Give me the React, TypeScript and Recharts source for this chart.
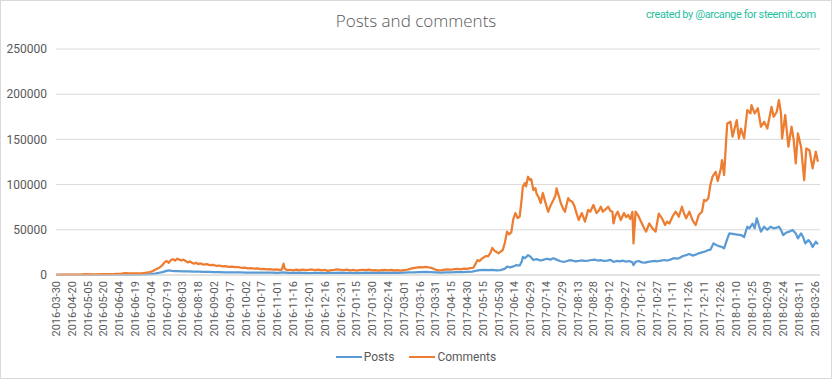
import React from 'react';
import { LineChart, Line, XAxis, YAxis, CartesianGrid, Legend } from 'recharts';

const tickLabels = [
  '2016-03-30', '2016-04-20', '2016-05-05', '2016-05-20', '2016-06-04', '2016-06-19', '2016-07-04',
  '2016-07-19', '2016-08-03', '2016-08-18', '2016-09-02', '2016-09-17', '2016-10-02', '2016-10-17',
  '2016-11-01', '2016-11-16', '2016-12-01', '2016-12-16', '2016-12-31', '2017-01-15', '2017-01-30',
  '2017-02-14', '2017-03-01', '2017-03-16', '2017-03-31', '2017-04-15', '2017-04-30', '2017-05-15',
  '2017-05-30', '2017-06-14', '2017-06-29', '2017-07-14', '2017-07-29', '2017-08-13', '2017-08-28',
  '2017-09-12', '2017-09-27', '2017-10-12', '2017-10-27', '2017-11-11', '2017-11-26', '2017-12-11',
  '2017-12-26', '2018-01-10', '2018-01-25', '2018-02-09', '2018-02-24', '2018-03-11', '2018-03-26',
];

const yTicks = [0, 50000, 100000, 150000, 200000, 250000];

// [category index, value]
const postsPoints: [number, number][] = [
  [0,100],[20,150],[40,250],[60,350],[80,500],[86,700],[90,1000],[94,1600],[98,2500],[101,3200],[104,4200],[106,4800],[108,5000],[110,4500],[113,4300],[116,4400],[120,4000],[125,3900],[130,3700],[135,3600],[140,3500],[145,3400],[150,3300],[155,3100],[160,3000],[165,2900],[170,3000],[175,2800],[180,2700],[185,2700],[190,2600],[195,2500],[200,2600],[205,2500],[210,2400],[216,2900],[220,2400],[225,2300],[230,2500],[235,2300],[240,2200],[245,2400],[250,2300],[255,2200],[260,2400],[265,2300],[270,2500],[275,2400],[280,2300],[285,2200],[290,2400],[295,2500],[300,2300],[305,2400],[310,2500],[315,2300],[320,2500],[325,2400],[330,2600],[335,2800],[340,3000],[345,3300],[350,3400],[355,3100],[360,2900],[365,2700],[370,2800],[375,3000],[380,3100],[385,3300],[390,3500],[395,3800],[398,4500],[402,5500],[406,5800],[410,5300],[414,5600],[418,5000],[422,5400],[426,7000],[428,9200],[431,8500],[434,9500],[437,11000],[440,10500],[442,15000],[443,20000],[445,18600],[448,22000],[450,20500],[453,16600],[456,17500],[460,16000],[463,17000],[466,18000],[469,17000],[472,18600],[475,17000],[478,15500],[482,14400],[485,15500],[488,16500],[490,16000],[493,15000],[496,15500],[499,16200],[502,15500],[505,16000],[508,16600],[511,17000],[514,16000],[517,16500],[520,15500],[523,16000],[526,16800],[529,14500],[532,15500],[535,15000],[538,15800],[541,14800],[544,15500],[547,14000],[548,11000],[550,14500],[553,15500],[556,14000],[559,13800],[562,14500],[565,15000],[568,15500],[571,15200],[574,16000],[577,16600],[580,16000],[583,17000],[586,18600],[589,18000],[592,19000],[595,21000],[598,22000],[601,23200],[604,21500],[607,22500],[610,24000],[613,25000],[616,26000],[619,27600],[621,28000],[624,35000],[627,33000],[629,32000],[632,31000],[634,29500],[637,40000],[639,46000],[642,45500],[645,45000],[648,44500],[650,44200],[653,42000],[656,53400],[658,51600],[661,56800],[663,51600],[665,62700],[667,55000],[669,48000],[672,53400],[675,50000],[678,53400],[681,51600],[684,52500],[686,53400],[688,50000],[690,44200],[693,47000],[696,48000],[699,49800],[702,46000],[704,40500],[707,46000],[709,42000],[711,35000],[714,38600],[716,36000],[718,31000],[721,36800],[723,34000],
];

const commentsPoints: [number, number][] = [
  [0,200],[6,300],[12,400],[18,500],[24,600],[30,900],[33,700],[38,800],[44,1000],[50,1100],[56,1200],[62,1500],[66,2000],[70,1700],[76,1800],[82,2200],[86,2600],[89,3200],[92,4500],[95,6500],[98,8000],[101,11000],[103,14000],[105,15500],[107,13500],[109,16500],[111,17500],[113,16000],[115,18000],[117,17000],[119,16000],[121,17000],[123,15500],[125,14000],[127,15000],[129,13500],[131,12500],[133,13500],[135,12000],[137,12800],[140,11500],[143,12000],[146,11000],[149,11200],[152,10200],[155,10500],[158,9600],[161,9800],[164,9000],[167,9300],[170,8600],[173,8800],[176,8000],[179,8200],[182,7400],[185,7600],[188,7000],[191,7300],[194,6600],[197,6800],[200,6200],[203,6500],[206,6000],[209,6200],[212,5600],[214,5800],[215,9000],[216,12500],[217,7000],[219,5500],[222,5800],[225,5200],[228,5900],[231,5400],[234,6000],[237,5300],[240,5700],[243,6100],[246,5500],[249,5900],[252,5200],[255,5600],[258,4600],[261,5300],[264,5700],[267,6200],[270,5800],[273,5400],[276,6000],[279,5200],[282,5600],[285,4900],[288,5500],[291,5800],[294,5300],[297,5900],[300,5200],[303,5500],[306,4800],[309,5400],[312,5700],[315,5100],[318,5600],[321,5000],[324,5500],[327,4900],[330,5400],[333,5800],[336,6800],[339,7600],[342,8200],[345,8800],[348,8500],[351,9000],[354,8300],[357,7500],[360,6000],[363,5200],[366,5500],[369,6000],[372,6300],[375,5800],[378,6500],[381,6800],[384,6200],[387,7000],[390,6800],[393,7500],[396,8000],[398,12000],[400,16500],[402,15500],[404,18000],[406,19500],[408,21000],[410,20500],[412,24000],[414,30000],[416,27000],[418,25500],[420,24000],[422,26000],[424,27600],[426,36000],[428,48000],[430,45000],[432,47000],[434,62000],[436,68500],[438,63000],[440,64500],[442,85000],[443,97700],[445,101700],[446,98000],[448,108700],[450,105000],[451,106000],[453,94000],[455,96000],[456,90000],[458,86000],[460,79600],[462,90700],[464,82000],[467,70000],[469,76000],[472,83000],[474,88000],[475,95800],[477,88000],[479,79600],[481,74000],[483,70000],[486,85000],[488,82000],[490,81000],[492,76000],[493,72000],[496,60800],[499,68500],[502,59000],[505,72000],[507,70000],[510,77400],[513,68500],[515,71000],[517,75500],[519,70000],[521,72000],[524,75500],[526,71000],[528,70000],[529,57000],[531,66000],[533,70000],[536,60800],[539,68500],[541,64000],[543,66400],[545,62000],[547,70000],[548,35000],[550,70000],[553,64500],[556,57000],[558,52000],[560,48000],[563,57000],[566,51600],[569,48000],[572,68000],[575,62700],[578,55300],[580,59000],[582,57000],[585,64500],[588,70000],[591,64500],[594,75500],[596,68000],[598,62700],[601,70000],[604,60800],[607,55300],[610,66400],[613,70000],[615,83000],[617,82000],[619,84800],[621,100000],[623,108700],[626,114000],[628,104000],[631,118000],[632,127000],[634,110600],[636,150000],[637,167700],[640,169500],[642,153000],[646,171400],[648,151000],[650,162000],[653,151000],[656,182500],[659,178800],[660,188000],[663,178800],[666,184400],[669,164000],[672,169500],[675,162000],[679,186000],[681,175000],[684,180600],[686,193500],[688,178800],[689,151000],[692,177000],[695,141900],[698,164000],[700,150000],[702,123500],[704,156700],[707,141900],[710,105000],[712,140000],[715,138000],[718,118000],[721,136400],[723,125300],
];

const postsData = postsPoints.map(([i, v]) => ({ i, v }));
const commentsData = commentsPoints.map(([i, v]) => ({ i, v }));
const xTicks = tickLabels.map((_, k) => k * 15);

const FONT = 'Roboto, "Open Sans", sans-serif';
const GRAY = '#595959';
const BLUE = '#5B9BD5';
const ORANGE = '#ED7D31';

const XTick = (props: any) => {
  const { x, y, payload } = props;
  const label = tickLabels[Math.round(payload.value / 15)];
  return (
    <text
      x={x}
      y={y}
      dy={4}
      transform={`rotate(-90, ${x}, ${y})`}
      textAnchor="end"
      fontSize={11}
      fontFamily={FONT}
      fill={GRAY}
    >
      {label}
    </text>
  );
};

const LegendContent = () => (
  <div
    style={{
      height: 30,
      display: 'flex',
      justifyContent: 'center',
      alignItems: 'flex-start',
      fontFamily: FONT,
      fontSize: 12,
      color: GRAY,
      lineHeight: '16px',
    }}
  >
    <span style={{ display: 'flex', alignItems: 'center', marginRight: 15 }}>
      <span style={{ width: 26, height: 0, borderTop: `2.5px solid ${BLUE}`, marginRight: 2 }} />
      Posts
    </span>
    <span style={{ display: 'flex', alignItems: 'center' }}>
      <span style={{ width: 26, height: 0, borderTop: `2.5px solid ${ORANGE}`, marginRight: 2 }} />
      Comments
    </span>
  </div>
);

export default function App() {
  return (
    <div style={{ position: 'absolute', left: 0, top: 0, width: 832, height: 379, background: '#fff' }}>
      <LineChart width={832} height={379} margin={{ top: 49, right: 12, bottom: 0, left: 0 }}>
        <CartesianGrid horizontal vertical={false} stroke="#d9d9d9" strokeWidth={1} />
        <XAxis
          type="number"
          dataKey="i"
          domain={[0, 725]}
          ticks={xTicks}
          interval={0}
          tick={<XTick />}
          tickLine={false}
          tickSize={0}
          tickMargin={6}
          axisLine={{ stroke: '#d9d9d9' }}
          height={74}
          allowDataOverflow
        />
        <YAxis
          type="number"
          domain={[0, 250000]}
          ticks={yTicks}
          interval={0}
          width={56}
          axisLine={false}
          tickLine={false}
          tickSize={0}
          tickMargin={9}
          tick={{ fontSize: 12, fill: GRAY, fontFamily: FONT }}
        />
        <Legend
          verticalAlign="bottom"
          align="center"
          height={30}
          content={<LegendContent />}
          wrapperStyle={{ left: 0, width: 832 }}
        />
        <Line
          data={postsData}
          dataKey="v"
          name="Posts"
          type="linear"
          stroke={BLUE}
          strokeWidth={2.25}
          dot={false}
          isAnimationActive={false}
          strokeLinejoin="round"
        />
        <Line
          data={commentsData}
          dataKey="v"
          name="Comments"
          type="linear"
          stroke={ORANGE}
          strokeWidth={2.25}
          dot={false}
          isAnimationActive={false}
          strokeLinejoin="round"
        />
      </LineChart>
      <div
        style={{
          position: 'absolute',
          left: 0,
          top: 10,
          width: 832,
          textAlign: 'center',
          fontFamily: '"Open Sans", sans-serif',
          fontWeight: 300,
          fontSize: 17,
          lineHeight: '22px',
          color: GRAY,
          pointerEvents: 'none',
        }}
      >
        Posts and comments
      </div>
      <div
        style={{
          position: 'absolute',
          left: 646,
          top: 7,
          width: 180,
          whiteSpace: 'nowrap',
          fontFamily: FONT,
          fontSize: 11,
          letterSpacing: '-0.4px',
          lineHeight: '16px',
          color: '#1fbf9f',
          pointerEvents: 'none',
        }}
      >
        created by @arcange for steemit.com
      </div>
      <svg
        width={832}
        height={379}
        style={{ position: 'absolute', left: 0, top: 0, pointerEvents: 'none' }}
      >
        <rect x={0.5} y={0.5} width={831} height={378} fill="none" stroke="#d9d9d9" />
      </svg>
    </div>
  );
}
